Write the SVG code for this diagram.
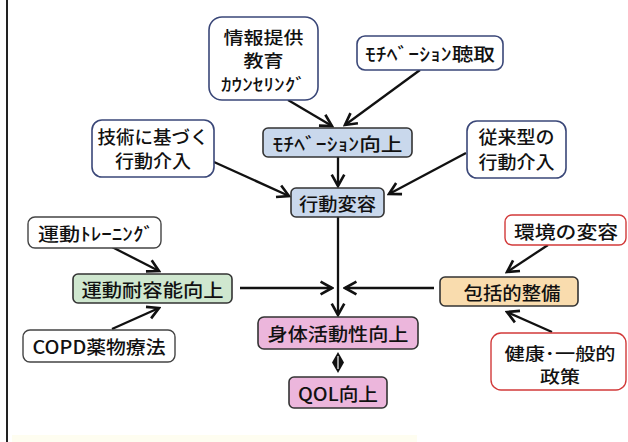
<svg xmlns="http://www.w3.org/2000/svg" width="628" height="442" viewBox="0 0 628 442">
<defs>
<style>
.t{font-family:"Noto Sans CJK JP","Noto Sans",sans-serif;font-size:18px;font-weight:500;fill:#111;text-anchor:middle;dominant-baseline:central}
.s{font-size:18px}
.m{font-size:17px}
.nv{fill:#fff;stroke:#3a4778;stroke-width:1.6}
.gr{fill:#fff;stroke:#444;stroke-width:1.4}
.rd{fill:#fff;stroke:#d23a3a;stroke-width:1.4}
.bl{fill:#c9d8ec;stroke:#333;stroke-width:1.6}
.gn{fill:#cfe7cf;stroke:#333;stroke-width:1.6}
.or{fill:#f9dcae;stroke:#333;stroke-width:1.6}
.pk{fill:#ecb6dc;stroke:#333;stroke-width:1.6}
.c{stroke:#111;stroke-width:2.3;fill:none;marker-end:url(#ah)}
</style>
<marker id="ah" markerUnits="userSpaceOnUse" markerWidth="16" markerHeight="16" viewBox="-12 -7 14 14" refX="0" refY="0" orient="auto">
<path d="M-10,-5.5 L0,0 L-10,5.5" fill="none" stroke="#111" stroke-width="2.3"/>
</marker>
</defs>
<rect width="628" height="442" fill="#fff"/>
<line x1="7" y1="0" x2="7" y2="442" stroke="#222" stroke-width="2"/>
<rect x="12" y="435" width="405" height="7" fill="#fefdf0"/>

<g id="connectors">
<line class="c" x1="288" y1="100" x2="332" y2="126"/>
<line class="c" x1="420" y1="70" x2="345" y2="125"/>
<line class="c" x1="338" y1="157" x2="338" y2="186"/>
<line class="c" x1="214" y1="162" x2="289" y2="196"/>
<line class="c" x1="466" y1="153" x2="389" y2="194"/>
<line class="c" x1="338" y1="217" x2="338" y2="315"/>
<line class="c" x1="112" y1="247" x2="159" y2="271"/>
<line class="c" x1="548" y1="245" x2="507" y2="272"/>
<line class="c" x1="240" y1="288" x2="332" y2="288"/>
<line class="c" x1="434" y1="288" x2="345" y2="288"/>
<line class="c" x1="112" y1="329" x2="159" y2="308"/>
<line class="c" x1="552" y1="332" x2="507" y2="312"/>
<path d="M338,352 L344,362.5 L338,373 L332,362.5 Z" fill="#111"/>
<line x1="338" y1="356" x2="338" y2="369" stroke="#fff" stroke-width="1.2"/>
</g>

<g id="n-info"><rect class="nv" x="209" y="17" width="109" height="83" rx="13"/>
<text class="t m" x="263.5" y="36" textLength="80" lengthAdjust="spacingAndGlyphs">情報提供</text>
<text class="t m" x="263.5" y="59" textLength="40" lengthAdjust="spacingAndGlyphs">教育</text>
<text class="t m" x="263.5" y="83" textLength="85" lengthAdjust="spacingAndGlyphs">ｶｳﾝｾﾘﾝｸﾞ</text></g>

<g id="n-hearing"><rect class="nv" x="357" y="36" width="146" height="34" rx="8"/>
<text class="t s" x="430" y="53" textLength="130" lengthAdjust="spacingAndGlyphs">ﾓﾁﾍﾞｰｼｮﾝ聴取</text></g>

<g id="n-motivation"><rect class="bl" x="263" y="128" width="149" height="29" rx="5"/>
<text class="t" x="337.5" y="143" textLength="130" lengthAdjust="spacingAndGlyphs">ﾓﾁﾍﾞｰｼｮﾝ向上</text></g>

<g id="n-tech"><rect class="nv" x="92" y="120" width="122" height="57" rx="10"/>
<text class="t" x="153" y="136" textLength="111" lengthAdjust="spacingAndGlyphs">技術に基づく</text>
<text class="t" x="153" y="160" textLength="76" lengthAdjust="spacingAndGlyphs">行動介入</text></g>

<g id="n-conv"><rect class="nv" x="467" y="121" width="99" height="57" rx="10"/>
<text class="t" x="516.5" y="136" textLength="76" lengthAdjust="spacingAndGlyphs">従来型の</text>
<text class="t" x="516.5" y="161" textLength="76" lengthAdjust="spacingAndGlyphs">行動介入</text></g>

<g id="n-behavior"><rect class="bl" x="291" y="188" width="93" height="29" rx="5"/>
<text class="t" x="337.5" y="203" textLength="77" lengthAdjust="spacingAndGlyphs">行動変容</text></g>

<g id="n-training"><rect class="gr" x="28" y="217" width="133" height="31" rx="7"/>
<text class="t s" x="96" y="232.5" textLength="116" lengthAdjust="spacingAndGlyphs">運動ﾄﾚｰﾆﾝｸﾞ</text></g>

<g id="n-env"><rect class="rd" x="505" y="215" width="121" height="30" rx="7"/>
<text class="t" x="566" y="230.5" textLength="104" lengthAdjust="spacingAndGlyphs">環境の変容</text></g>

<g id="n-exercise"><rect class="gn" x="73" y="274" width="159" height="29" rx="5"/>
<text class="t" x="152.5" y="289" textLength="142" lengthAdjust="spacingAndGlyphs">運動耐容能向上</text></g>

<g id="n-comprehensive"><rect class="or" x="440" y="277" width="138" height="29" rx="5"/>
<text class="t" x="512" y="291.5" textLength="97" lengthAdjust="spacingAndGlyphs">包括的整備</text></g>

<g id="n-pa"><rect class="pk" x="258" y="317" width="160" height="32" rx="6"/>
<text class="t" x="338" y="333" textLength="141" lengthAdjust="spacingAndGlyphs">身体活動性向上</text></g>

<g id="n-copd"><rect class="gr" x="23" y="330" width="152" height="32" rx="7"/>
<text class="t" x="99" y="346" textLength="133" lengthAdjust="spacingAndGlyphs">COPD薬物療法</text></g>

<g id="n-policy"><rect class="rd" x="491" y="333" width="135" height="57" rx="10"/>
<text class="t m" x="560" y="352" textLength="111" lengthAdjust="spacingAndGlyphs">健康･一般的</text>
<text class="t m" x="560" y="375" textLength="40" lengthAdjust="spacingAndGlyphs">政策</text></g>

<g id="n-qol"><rect class="pk" x="289" y="377" width="98" height="31" rx="5"/>
<text class="t" x="338" y="392.5" textLength="80" lengthAdjust="spacingAndGlyphs">QOL向上</text></g>
</svg>
